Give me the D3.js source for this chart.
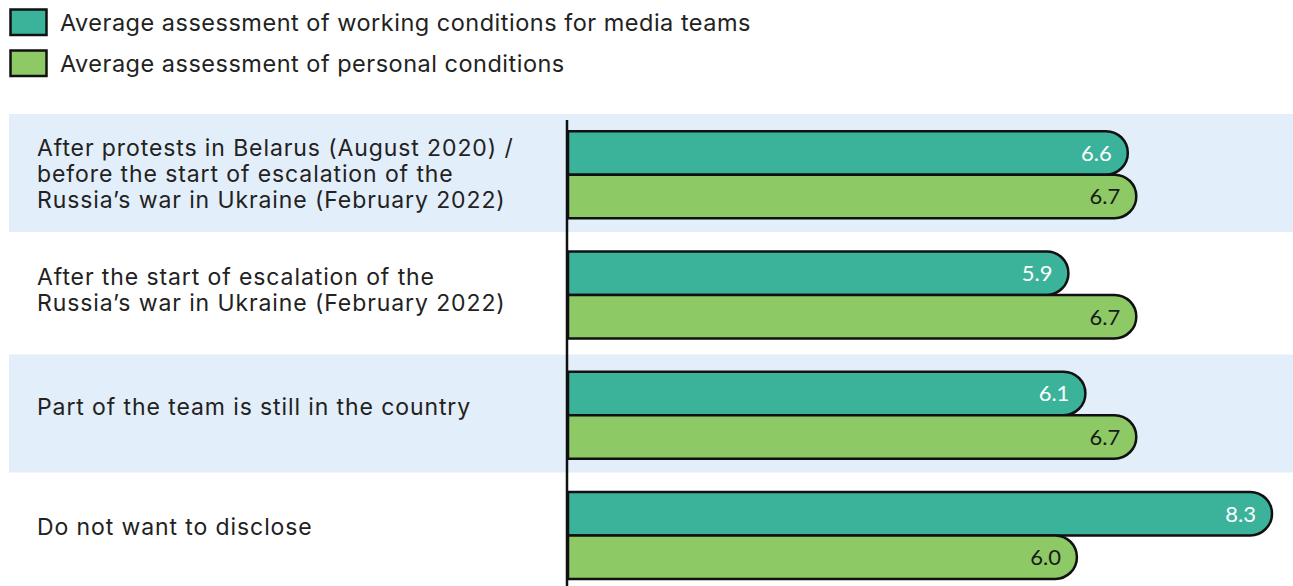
<!DOCTYPE html>
<html>
<head>
<meta charset="utf-8">
<script src="https://cdn.jsdelivr.net/npm/d3@7"></script>
<style>
  html, body { margin: 0; padding: 0; background: #fff; }
  svg { display: block; }
  .lbl { font-family: Inter, "DejaVu Sans", sans-serif; fill: #222; }
  .val { font-family: Lato, "Noto Sans", sans-serif; font-size: 22px; }
</style>
</head>
<body>
<svg id="chart" width="1293" height="586"></svg>
<script>
const categories = [
  ['After protests in Belarus (August 2020) /', 'before the start of escalation of the', 'Russia\u2019s war in Ukraine (February 2022)'],
  ['After the start of escalation of the', 'Russia\u2019s war in Ukraine (February 2022)'],
  ['Part of the team is still in the country'],
  ['Do not want to disclose']
];
const seriesNames = [
  'Average assessment of working conditions for media teams',
  'Average assessment of personal conditions'
];
const workingValues = [6.6, 5.9, 6.1, 8.3];
const personalValues = [6.7, 6.7, 6.7, 6.0];

const colors = ['#3bb39a', '#8dc965'];
const textColors = ['#fff', '#1a1a1a'];

const svg = d3.select('#chart');
const W = 1293, H = 586;

const ids = categories.map((_, i) => i);
const y = d3.scaleBand().domain(ids).range([114, 595]).paddingInner(0);
const x = d3.scaleLinear().domain([0, 8.3]).range([568, 1272]);
const barH = 43.5;

// background bands
svg.append('g').selectAll('rect')
  .data(ids.filter(i => i % 2 === 0))
  .join('rect')
  .attr('x', 9).attr('y', d => y(d))
  .attr('width', W - 9).attr('height', 118)
  .attr('fill', '#e2eef9');

// category labels
const lineH = 26;
svg.append('g').selectAll('text')
  .data(ids)
  .join('text')
  .attr('class', 'lbl')
  .attr('font-size', 23)
  .attr('letter-spacing', 0.9)
  .each(function (d) {
    const lines = categories[d];
    const cy = y(d) + y.bandwidth() / 2 - (3 - lines.length) * 4;
    const first = cy + 8 - (lines.length - 1) * lineH / 2;
    d3.select(this).selectAll('tspan')
      .data(lines)
      .join('tspan')
      .attr('x', 37)
      .attr('y', (t, k) => first + k * lineH)
      .text(t => t);
  });

// bars: square on the left, rounded on the right
function barPath(x0, x1, y0, h) {
  const r = Math.min(h / 2, x1 - x0);
  const p = d3.path();
  p.moveTo(x0, y0);
  p.lineTo(x1 - r, y0);
  p.arcTo(x1, y0, x1, y0 + r, r);
  p.lineTo(x1, y0 + h - r);
  p.arcTo(x1, y0 + h, x1 - r, y0 + h, r);
  p.lineTo(x0, y0 + h);
  p.closePath();
  return p.toString();
}

const rows = [];
ids.forEach(i => {
  [workingValues[i], personalValues[i]].forEach((v, s) => {
    const cy = y(i) + y.bandwidth() / 2 + 0.5;
    rows.push({ i, s, v, y0: s === 0 ? cy - barH : cy });
  });
});

const bars = svg.append('g');
bars.selectAll('path')
  .data(rows)
  .join('path')
  .attr('d', d => barPath(x(0), x(d.v), d.y0, barH))
  .attr('fill', d => colors[d.s])
  .attr('stroke', '#111')
  .attr('stroke-width', 2.5)
  .attr('stroke-linejoin', 'round');

bars.selectAll('text')
  .data(rows)
  .join('text')
  .attr('class', 'val')
  .attr('x', d => x(d.v) - 16)
  .attr('y', d => d.y0 + barH / 2 + 8)
  .attr('text-anchor', 'end')
  .attr('fill', d => textColors[d.s])
  .text(d => d.v.toFixed(1));

// vertical axis line
svg.append('line')
  .attr('x1', 567).attr('x2', 567)
  .attr('y1', 120).attr('y2', H)
  .attr('stroke', '#111').attr('stroke-width', 2.5);

// legend
const leg = svg.append('g').selectAll('g')
  .data(seriesNames)
  .join('g')
  .attr('transform', (d, i) => `translate(0,${i * 41})`);
leg.append('rect')
  .attr('x', 10.5).attr('y', 9.5).attr('width', 36).attr('height', 25.5)
  .attr('fill', (d, i) => colors[i])
  .attr('stroke', '#111').attr('stroke-width', 2.5);
leg.append('text')
  .attr('class', 'lbl')
  .attr('font-size', 23.5)
  .attr('letter-spacing', 0.5)
  .attr('x', 60).attr('y', 30.5)
  .text(d => d);
</script>
</body>
</html>
